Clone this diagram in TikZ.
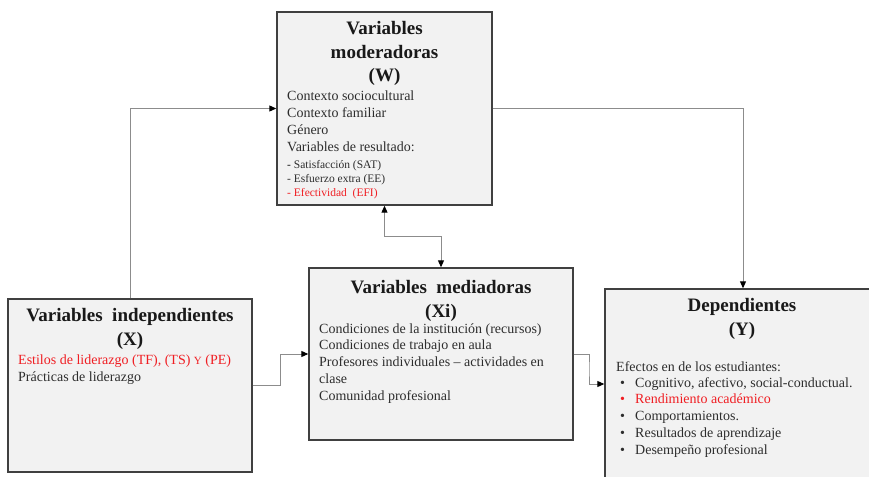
\documentclass[tikz,border=0pt]{standalone}
\usepackage{fontspec}
\setmainfont{Liberation Serif}
\usetikzlibrary{calc,arrows.meta}

\definecolor{boxfill}{RGB}{242,242,242}
\definecolor{boxline}{RGB}{64,64,64}
\definecolor{connline}{RGB}{140,140,140}
\definecolor{txtgray}{RGB}{45,45,45}
\definecolor{txtred}{RGB}{240,30,35}

\tikzset{
  varbox/.style={draw=boxline, line width=1.4pt, fill=boxfill, inner sep=0pt},
  boxtitle/.style={anchor=base, align=center, inner sep=0pt, text=black!90,
    font=\fontsize{19}{23.5}\selectfont\bfseries},
  boxbody/.style={anchor=base west, align=left, inner sep=0pt, text=txtgray,
    font=\fontsize{14}{16.7}\selectfont},
  boxsmall/.style={boxbody, font=\fontsize{11.5}{14}\selectfont},
  conn/.style={draw=connline, line width=1pt,
    -{Triangle[length=7pt,width=6pt,color=black]}},
}

\begin{document}
\begin{tikzpicture}[x=1pt,y=-1pt]
		%%%%% START %%%%%
		\useasboundingbox (0,0) rectangle (869,476);
		\clip (0,0) rectangle (869,476);
		
		% boxes
		\node[varbox, minimum width=215pt, minimum height=193pt] (W) at (384.5,108.5) {};
		\node[varbox, minimum width=244pt, minimum height=173pt] (X) at (130,385.5) {};
		\node[varbox, minimum width=264pt, minimum height=172pt] (Xi) at (441,354) {};
		\node[varbox, minimum width=276pt, minimum height=190pt] (Y) at (743,384) {};
		
		% moderadoras (base = last line)
		\node[boxtitle] (Wtitle) at (384.5,82) {Variables\\moderadoras\\(W)};
		\node[boxbody] (Wbody) at (287,151) {Contexto sociocultural\\Contexto familiar\\Género\\Variables de resultado:};
		\node[boxsmall] (Wsmall) at (287,196) {\textbf{-} Satisfacción (SAT)\\- Esfuerzo extra (EE)\\\textcolor{txtred}{- Efectividad\ \ (EFI)}};
		
		% independientes
		\node[boxtitle] (Xtitle) at (130,345) {Variables\ \ independientes\\(X)};
		\node[boxbody] (Xbody) at (18,381) {\textcolor{txtred}{Estilos de liderazgo (TF), (TS) {\fontsize{11}{12}\selectfont Y} (PE)}\\Prácticas de liderazgo};
		
		% mediadoras
		\node[boxtitle] (Xititle) at (441,317) {Variables\ \ mediadoras\\(Xi)};
		\node[boxbody] (Xibody) at (319,400) {Condiciones de la institución (recursos)\\Condiciones de trabajo en aula\\Profesores individuales -- actividades en\\clase\\Comunidad profesional};
		
		% dependientes
		\node[boxtitle] (Ytitle) at (742,335) {Dependientes\\(Y)};
		\node[boxbody] (Ybody) at (616,371) {Efectos en de los estudiantes:};
		\node[boxbody] (Ylist) at (620,454) {\makebox[15pt][l]{•}Cognitivo, afectivo, social-conductual.\\\textcolor{txtred}{\makebox[15pt][l]{•}Rendimiento académico}\\\makebox[15pt][l]{•}Comportamientos.\\\makebox[15pt][l]{•}Resultados de aprendizaje\\\makebox[15pt][l]{•}Desempeño profesional};
		
		% connectors
		\draw[conn] (X.north) |- (W.west);
		\draw[conn] (W.east) -| (Y.north);
		\draw[conn] (X.east) -| ($(X.east)!0.5!(Xi.west)$) |- (Xi.west);
		\draw[conn] (Xi.east) -| ($(Xi.east)!0.5!(Y.west)$) |- (Y.west);
		\draw[conn, {Triangle[length=7pt,width=6pt,color=black]}-{Triangle[length=7pt,width=6pt,color=black]}] (W.south) |- ($(W.south)!0.5!(Xi.north)$) -| (Xi.north);
		
		%%%%% END %%%%%
	\end{tikzpicture}
\end{document}
